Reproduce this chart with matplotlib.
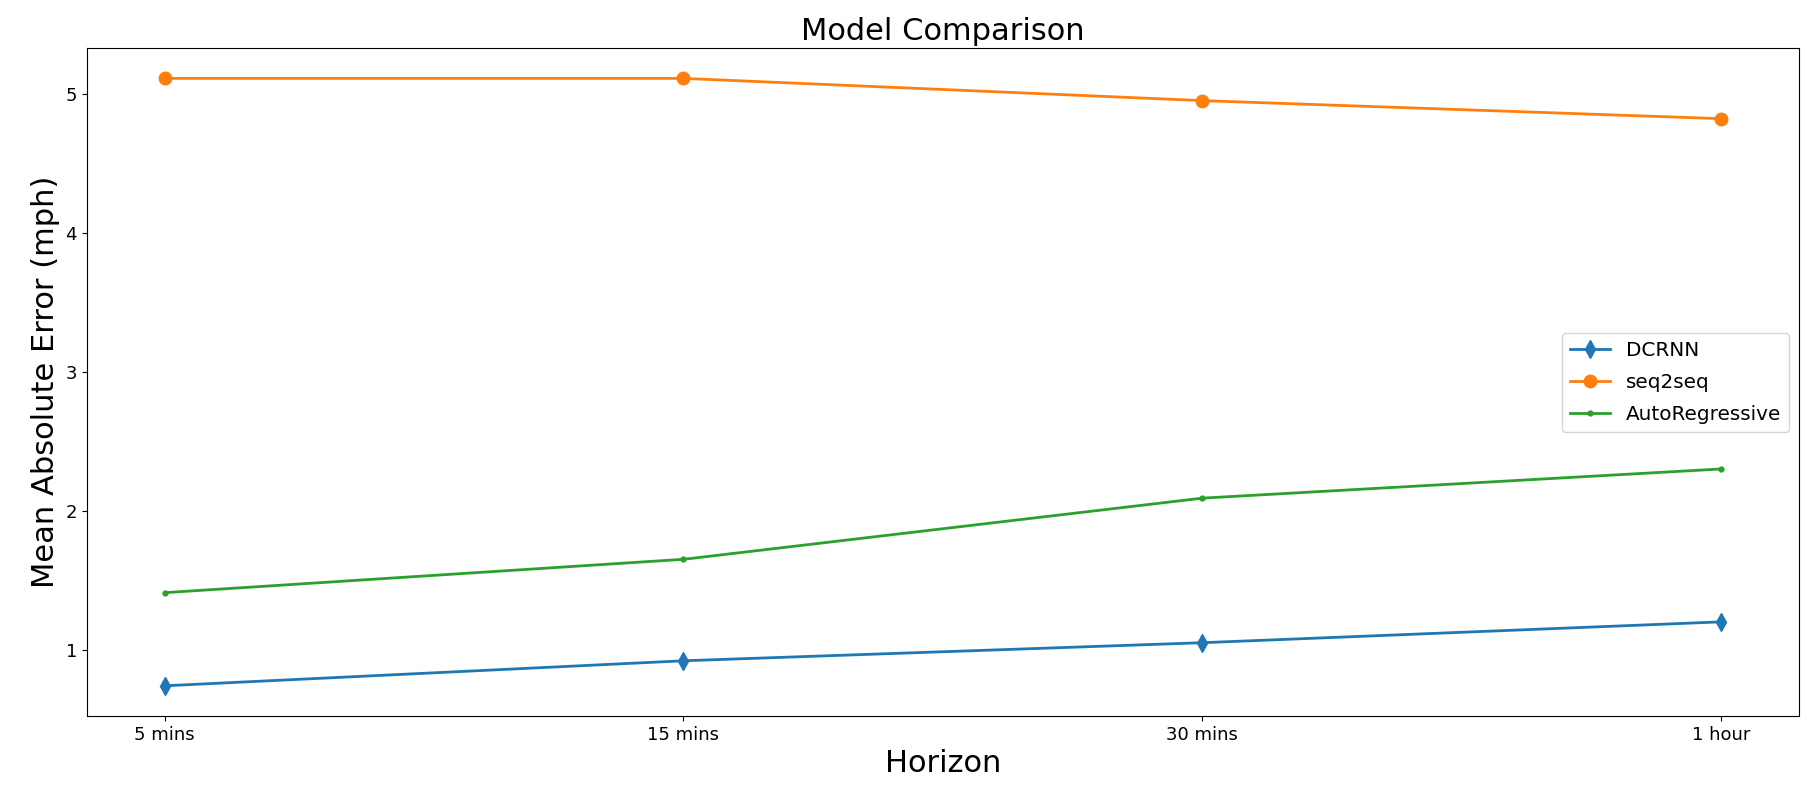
import matplotlib
matplotlib.use('Agg')
import matplotlib.pyplot as plt

# 预测时长
horizons = ['5 mins', '15 mins', '30 mins', '1 hour']

# 各模型的平均绝对误差 (mph)
dcrnn = [0.74, 0.92, 1.05, 1.20]
seq2seq = [5.11, 5.11, 4.95, 4.82]
auto_regressive = [1.41, 1.65, 2.09, 2.30]

fig, ax = plt.subplots(figsize=(18.08, 7.87), dpi=100)

x = range(len(horizons))
ax.plot(x, dcrnn, marker='d', markersize=9, linewidth=2, label='DCRNN')
ax.plot(x, seq2seq, marker='o', markersize=9, linewidth=2, label='seq2seq')
ax.plot(x, auto_regressive, marker='.', markersize=7, linewidth=2, label='AutoRegressive')

ax.set_xticks(list(x))
ax.set_xticklabels(horizons, fontsize=13)
ax.tick_params(axis='y', labelsize=13)

ax.set_title('Model Comparison', fontsize=22)
ax.set_xlabel('Horizon', fontsize=22)
ax.set_ylabel('Mean Absolute Error (mph)', fontsize=22)
ax.legend(loc='center right', fontsize=14.4, labelspacing=0.65)

plt.subplots_adjust(left=0.048, right=0.995, top=0.939, bottom=0.09)
plt.savefig('out.png', dpi=100)
